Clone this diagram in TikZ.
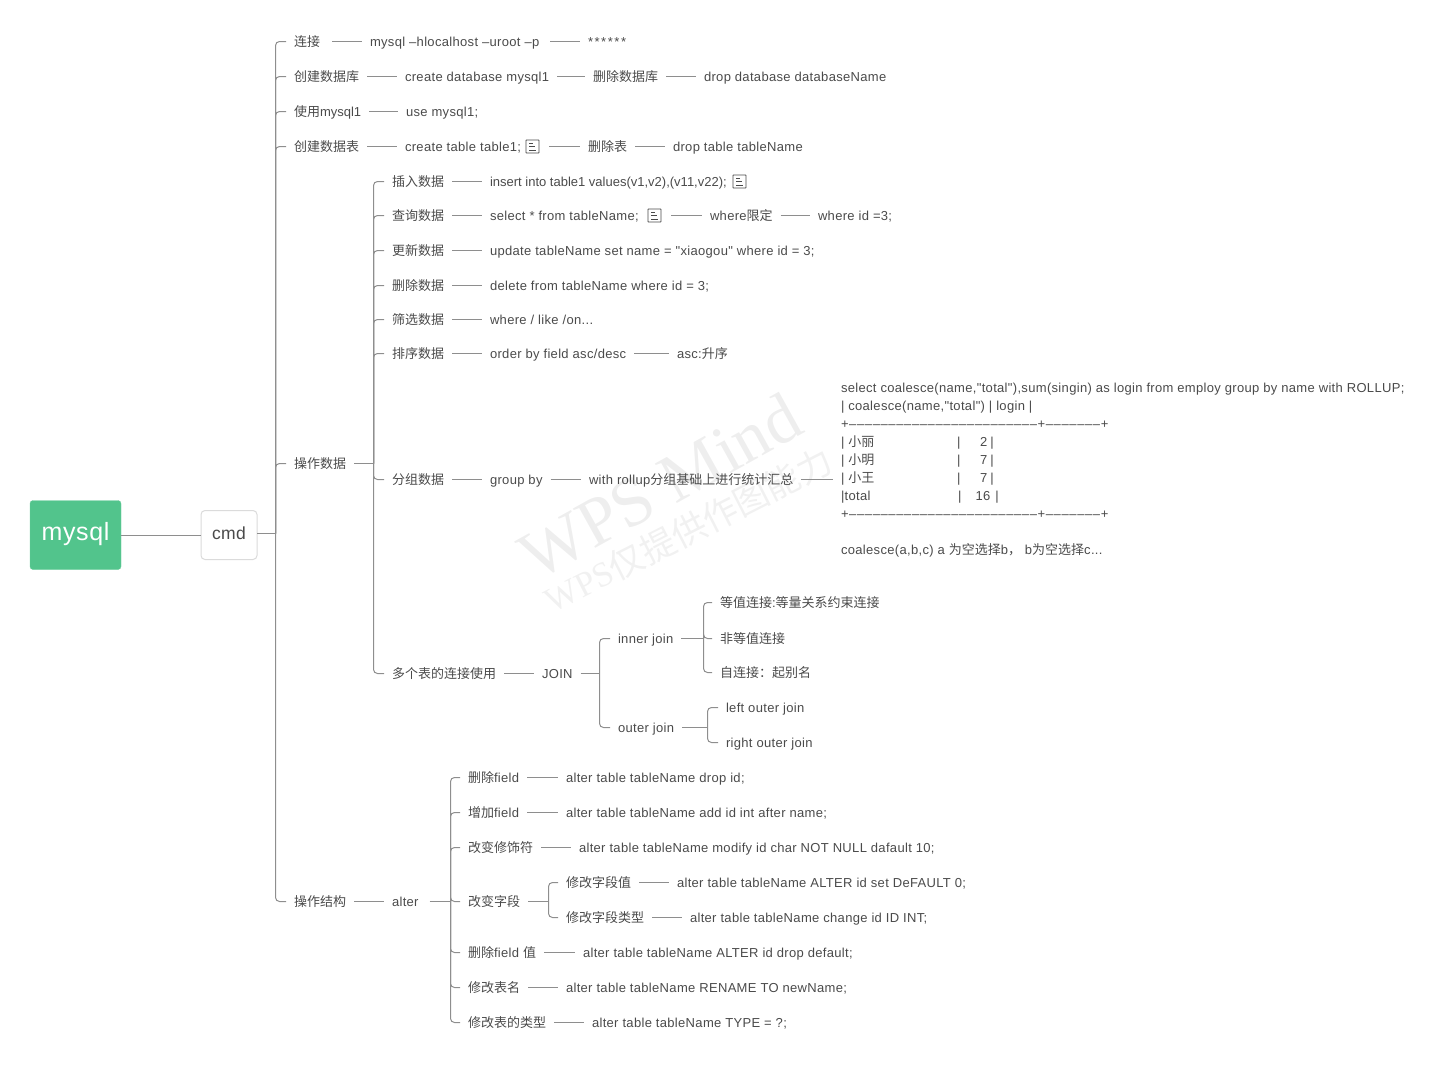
\documentclass[tikz,border=0pt]{standalone}
\usepackage{fontspec}
\setmainfont{Liberation Sans}[Ligatures=TeXOff,LetterSpace=2.5]
\newfontfamily\cnfont{Noto Sans CJK SC}
\newfontfamily\wmfont{Liberation Serif}
\newcommand{\cn}[1]{{\cnfont #1}}
\newcommand{\dashrow}{{\addfontfeature{LetterSpace=4.8}+––––––––––––––––––––––––+–––––––+}}
\newcommand{\sumrow}[2]{\makebox[116pt][l]{#1}|\makebox[27pt][r]{#2}\hspace{3pt}|}
\definecolor{textgrey}{HTML}{4A4A4A}
\definecolor{linegrey}{HTML}{8E8E8E}
\definecolor{markgrey}{HTML}{EEEEEE}
\definecolor{rootgreen}{HTML}{52C48C}
\tikzset{
	item/.style={anchor=west,yshift=-.5pt,inner xsep=8pt,inner ysep=0pt,outer sep=0pt,text height=12.5pt,text depth=2.5pt,text=textgrey,font=\fontsize{13}{15}\selectfont},
	link/.style={draw=linegrey,line width=1pt},
	fork/.style={draw=linegrey,line width=1pt,rounded corners=4pt},
	noteicon/.style={anchor=west,yshift=-.5pt,draw=textgrey,line width=.8pt,minimum size=13pt,inner sep=0pt,outer sep=0pt,rounded corners=.5pt,
		path picture={\draw[textgrey,line width=.8pt] ([xshift=3pt,yshift=3.5pt]path picture bounding box.west) -- +(4pt,0) ([xshift=3pt]path picture bounding box.west) -- +(6pt,0) ([xshift=3pt,yshift=-3.5pt]path picture bounding box.west) -- +(7pt,0);}}
}
\begin{document}
\begin{tikzpicture}[x=1pt,y=-1pt]
	\useasboundingbox (0,0) rectangle (1444,1068);
	% watermark
	\node[rotate=29,text=markgrey,font=\fontsize{69}{72}\wmfont] (markA) at (660,486) {WPS Mind};
	\node[rotate=27,text=markgrey!80!white,font=\fontsize{35}{38}\wmfont] (markB) at (688,530) {WPS\cn{仅提供作图能力}};

	\node[anchor=center,fill=rootgreen,draw=rootgreen!85!white,rounded corners=3pt,minimum width=91pt,minimum height=69pt,inner sep=0pt,outer sep=0pt,text=white,text height=14pt,text depth=3pt,font=\fontsize{25}{28}\selectfont] (mysql) at (75.5,535) {mysql};
	\node[anchor=center,fill=white,draw=black!14,line width=1pt,rounded corners=4pt,minimum width=56pt,minimum height=49pt,inner sep=0pt,outer sep=0pt,text=textgrey,text height=11pt,text depth=3pt,font=\fontsize{17.5}{20}\selectfont] (cmd) at (229,535) {cmd};
	\coordinate (cmdfork) at (275.5,533.5);
	\draw[link] (mysql.east) -- (cmd.west);
	\draw[link] (cmdfork -| cmd.east) -- (cmdfork);

	% first level
	\node[item] (conn) at (286,41) {\cn{连接}};
	\node[item] (connCmd) at (362,41) {mysql –hlocalhost –uroot –p};
	\node[item] (connPw) at (580,41) {\addfontfeature{LetterSpace=12}******};
	\node[item] (newDb) at (286,76) {\cn{创建数据库}};
	\node[item] (newDbCmd) at (397,76) {create database mysql1};
	\node[item] (dropDb) at (585,76) {\cn{删除数据库}};
	\node[item] (dropDbCmd) at (696,76) {drop database databaseName};
	\node[item] (useDb) at (286,111) {\cn{使用}\addfontfeature{LetterSpace=0}mysql1};
	\node[item] (useDbCmd) at (398,111) {use mysql1;};
	\node[item] (newTb) at (286,146) {\cn{创建数据表}};
	\node[item] (newTbCmd) at (397,146) {create table table1;};
	\node[noteicon] (newTbNote) at (526,146) {};
	\node[item] (dropTb) at (580,146) {\cn{删除表}};
	\node[item] (dropTbCmd) at (665,146) {drop table tableName};
	\node[item] (data) at (286,463) {\cn{操作数据}};
	\node[item] (struct) at (286,901) {\cn{操作结构}};

	\draw[fork] (cmdfork) |- (conn.west);
	\draw[fork] (cmdfork) |- (newDb.west);
	\draw[fork] (cmdfork) |- (useDb.west);
	\draw[fork] (cmdfork) |- (newTb.west);
	\draw[fork] (cmdfork) |- (data.west);
	\draw[fork] (cmdfork) |- (struct.west);
	\draw[link,shorten <=4pt] (conn) -- (connCmd);
	\draw[link,shorten <=3pt] (connCmd) -- (connPw);
	\draw[link] (newDb) -- (newDbCmd);
	\draw[link] (newDbCmd) -- (dropDb);
	\draw[link] (dropDb) -- (dropDbCmd);
	\draw[link] (useDb) -- (useDbCmd);
	\draw[link] (newTb) -- (newTbCmd);
	\draw[link,shorten <=10pt] (newTbNote) -- (dropTb);
	\draw[link] (dropTb) -- (dropTbCmd);

	% data
	\coordinate (datafork) at (373.5,463.5);
	\node[item] (ins) at (384,181) {\cn{插入数据}};
	\node[item] (insCmd) at (482,181) {\addfontfeature{LetterSpace=0}insert into table1 values(v1,v2),(v11,v22);};
	\node[noteicon] (insNote) at (733,181) {};
	\node[item] (sel) at (384,215) {\cn{查询数据}};
	\node[item] (selCmd) at (482,215) {select * from tableName;};
	\node[noteicon] (selNote) at (648,215) {};
	\node[item] (selWhere) at (702,215) {where\cn{限定}};
	\node[item] (selId) at (810,215) {where id =3;};
	\node[item] (upd) at (384,250) {\cn{更新数据}};
	\node[item] (updCmd) at (482,250) {update tableName set name = "xiaogou" where id = 3;};
	\node[item] (del) at (384,285) {\cn{删除数据}};
	\node[item] (delCmd) at (482,285) {delete from tableName where id = 3;};
	\node[item] (flt) at (384,319) {\cn{筛选数据}};
	\node[item] (fltCmd) at (482,319) {where / like /on...};
	\node[item] (ord) at (384,353) {\cn{排序数据}};
	\node[item] (ordCmd) at (482,353) {order by field asc/desc};
	\node[item] (ordAsc) at (669,353) {asc:\cn{升序}};
	\node[item] (grp) at (384,479) {\cn{分组数据}};
	\node[item] (grpBy) at (482,479) {group by};
	\node[item] (grpRoll) at (581,479) {with rollup\cn{分组基础上进行统计汇总}};
	\node[item,text height=,text depth=,align=left,font=\fontsize{13}{18}\selectfont] (grpNote) at (833,470) {select coalesce(name,"total"),sum(singin) as login from employ group by name with ROLLUP;\\
		| coalesce(name,"total") | login |\\
		\dashrow\\
		\sumrow{| \cn{小丽}}{2}\\
		\sumrow{| \cn{小明}}{7}\\
		\sumrow{| \cn{小王}}{7}\\
		\makebox[117pt][l]{|total}|\makebox[29pt][r]{16}\hspace{5pt}|\\
		\dashrow\\
		\mbox{}\\
		coalesce(a,b,c) a \cn{为空选择}b\cn{，} b\cn{为空选择}c...};
	\node[item] (jn) at (384,673) {\cn{多个表的连接使用}};
	\node[item] (jnJoin) at (534,673) {JOIN};

	\draw[link] (data) -- (datafork);
	\draw[fork] (datafork) |- (ins.west);
	\draw[fork] (datafork) |- (sel.west);
	\draw[fork] (datafork) |- (upd.west);
	\draw[fork] (datafork) |- (del.west);
	\draw[fork] (datafork) |- (flt.west);
	\draw[fork] (datafork) |- (ord.west);
	\draw[fork] (datafork) |- (grp.west);
	\draw[fork] (datafork) |- (jn.west);
	\draw[link] (ins) -- (insCmd);
	\draw[link] (sel) -- (selCmd);
	\draw[link,shorten <=10pt] (selNote) -- (selWhere);
	\draw[link] (selWhere) -- (selId);
	\draw[link] (upd) -- (updCmd);
	\draw[link] (del) -- (delCmd);
	\draw[link] (flt) -- (fltCmd);
	\draw[link] (ord) -- (ordCmd);
	\draw[link] (ordCmd) -- (ordAsc);
	\draw[link] (grp) -- (grpBy);
	\draw[link] (grpBy) -- (grpRoll);
	\draw[link] (grpRoll) -- (grpRoll -| grpNote.west);
	\draw[link] (jn) -- (jnJoin);

	% join
	\coordinate (jnfork) at (599.5,673.5);
	\coordinate (innerfork) at (703.5,638.5);
	\coordinate (outerfork) at (707.5,727.5);
	\node[item] (inner) at (610,638) {inner join};
	\node[item] (outer) at (610,727) {outer join};
	\node[item] (eq) at (712,602) {\cn{等值连接}:\cn{等量关系约束连接}};
	\node[item] (neq) at (712,638) {\cn{非等值连接}};
	\node[item] (self) at (712,672) {\cn{自连接：起别名}};
	\node[item] (left) at (718,707) {left outer join};
	\node[item] (right) at (718,742) {right outer join};

	\draw[link] (jnJoin) -- (jnfork);
	\draw[fork] (jnfork) |- (inner.west);
	\draw[fork] (jnfork) |- (outer.west);
	\draw[link] (inner) -- (innerfork);
	\draw[link] (outer) -- (outerfork);
	\draw[fork] (innerfork) |- (eq.west);
	\draw[fork] (innerfork) |- (neq.west);
	\draw[fork] (innerfork) |- (self.west);
	\draw[fork] (outerfork) |- (left.west);
	\draw[fork] (outerfork) |- (right.west);

	% structure
	\coordinate (alterfork) at (450.5,901.5);
	\coordinate (colfork) at (548.5,901.5);
	\node[item] (alter) at (384,901) {alter};
	\node[item] (dropF) at (460,777) {\cn{删除}field};
	\node[item] (dropFCmd) at (558,777) {alter table tableName drop id;};
	\node[item] (addF) at (460,812) {\cn{增加}field};
	\node[item] (addFCmd) at (558,812) {alter table tableName add id int after name;};
	\node[item] (mod) at (460,847) {\cn{改变修饰符}};
	\node[item] (modCmd) at (571,847) {alter table tableName modify id char NOT NULL dafault 10;};
	\node[item] (col) at (460,901) {\cn{改变字段}};
	\node[item] (colVal) at (558,882) {\cn{修改字段值}};
	\node[item] (colValCmd) at (669,882) {alter table tableName ALTER id set DeFAULT 0;};
	\node[item] (colTyp) at (558,917) {\cn{修改字段类型}};
	\node[item] (colTypCmd) at (682,917) {alter table tableName change id ID INT;};
	\node[item] (dropV) at (460,952) {\cn{删除}field \cn{值}};
	\node[item] (dropVCmd) at (575,952) {alter table tableName ALTER id drop default;};
	\node[item] (ren) at (460,987) {\cn{修改表名}};
	\node[item] (renCmd) at (558,987) {alter table tableName RENAME TO newName;};
	\node[item] (typ) at (460,1022) {\cn{修改表的类型}};
	\node[item] (typCmd) at (584,1022) {alter table tableName TYPE = ?;};

	\draw[link] (struct) -- (alter);
	\draw[link,shorten <=3pt] (alter) -- (alterfork);
	\draw[fork] (alterfork) |- (dropF.west);
	\draw[fork] (alterfork) |- (addF.west);
	\draw[fork] (alterfork) |- (mod.west);
	\draw[fork] (alterfork) |- (col.west);
	\draw[fork] (alterfork) |- (dropV.west);
	\draw[fork] (alterfork) |- (ren.west);
	\draw[fork] (alterfork) |- (typ.west);
	\draw[link] (dropF) -- (dropFCmd);
	\draw[link] (addF) -- (addFCmd);
	\draw[link] (mod) -- (modCmd);
	\draw[link] (col) -- (colfork);
	\draw[fork] (colfork) |- (colVal.west);
	\draw[fork] (colfork) |- (colTyp.west);
	\draw[link] (colVal) -- (colValCmd);
	\draw[link] (colTyp) -- (colTypCmd);
	\draw[link] (dropV) -- (dropVCmd);
	\draw[link] (ren) -- (renCmd);
	\draw[link] (typ) -- (typCmd);
\end{tikzpicture}
\end{document}
